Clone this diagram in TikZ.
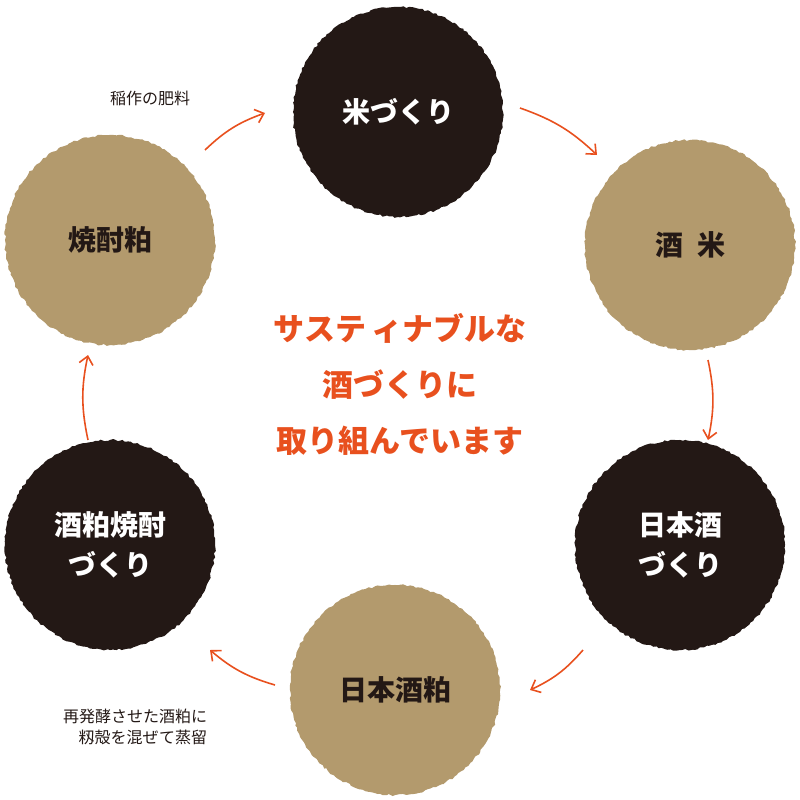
\documentclass[tikz,border=0pt]{standalone}
\usepackage{fontspec}
\setmainfont{Noto Sans CJK JP}
\usetikzlibrary{arrows.meta,decorations.pathmorphing}
\definecolor{sumi}{HTML}{231815}
\definecolor{kasu}{HTML}{B39A6D}
\definecolor{aka}{HTML}{E8501E}

\tikzset{
  ball/.style={circle, minimum size=210pt, inner sep=0pt, align=center,
    font=\fontsize{28}{40}\selectfont\bfseries,
    decorate, decoration={random steps, segment length=3pt, amplitude=1pt}},
  darkball/.style={ball, fill=sumi, text=white},
  tanball/.style={ball, fill=kasu, text=sumi},
  flow/.style={aka, line width=1.6pt, -{Straight Barb[length=8pt,width=14pt]}},
  note/.style={font=\fontsize{16}{21}\selectfont, text=sumi, align=left}
}

\begin{document}
\begin{tikzpicture}[x=1pt, y=-1pt]
  \useasboundingbox (0,0) rectangle (800,800);

  \node[darkball] (kome)   at (398,112) {米づくり};
  \node[tanball]  (sakami) at (690,245) {酒\,\,\,米};
  \node[darkball] (nihon)  at (680,545) {日本酒\\づくり};
  \node[tanball]  (kasu)   at (395,690) {日本酒粕};
  \node[darkball] (shochu) at (110,545) {酒粕焼酎\\づくり};
  \node[tanball]  (yaku)   at (110,240) {焼酎粕};

  % center message
  \node[aka, align=center, font=\fontsize{31}{56}\selectfont\bfseries] (msg) at (400,384)
    {サステ\,ィナブルな\\酒づくりに\\取り組んでいます};

  % notes
  \node[note] (hiryo) at (150,98) {稲作の肥料};
  \node[note, align=right] (joryu) at (135,727) {再発酵させた酒粕に\\籾殻を混ぜて蒸留};

  % cycle arrows
  \draw[flow] ([shift={(95,-90)}]yaku.center) to[bend left=12] ([shift={(-133,1)}]kome.center);
  \draw[flow] ([shift={(122,-4)}]kome.center) to[bend left=12] ([shift={(-93,-90)}]sakami.center);
  \draw[flow] ([shift={(18,115)}]sakami.center) to[bend left=12] ([shift={(28,-105)}]nihon.center);
  \draw[flow] ([shift={(-97,105)}]nihon.center) to[bend left=12] ([shift={(135,0)}]kasu.center);
  \draw[flow] ([shift={(-120,-5)}]kasu.center) to[bend left=12] ([shift={(100,105)}]shochu.center);
  \draw[flow] ([shift={(-22,-105)}]shochu.center) to[bend left=12] ([shift={(-22,115)}]yaku.center);
\end{tikzpicture}
\end{document}
